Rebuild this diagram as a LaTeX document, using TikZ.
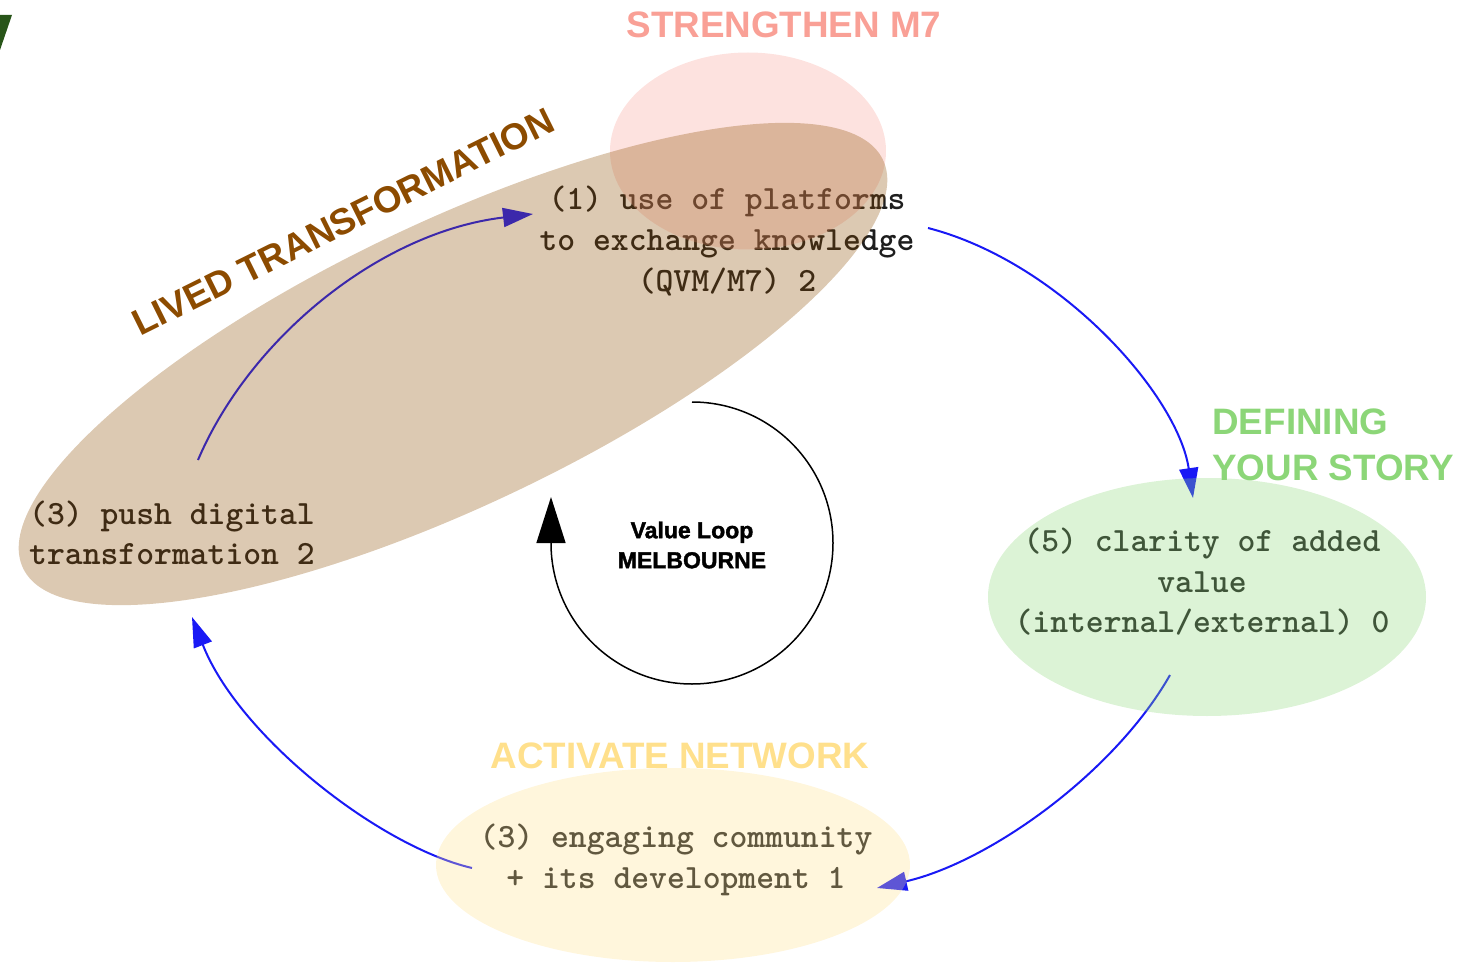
\documentclass[tikz,border=0pt]{standalone}
\usepackage{fontspec}
\setmainfont{Liberation Sans}
\newfontfamily\heavyfont{Liberation Sans}[BoldFeatures={FakeBold=1.6}]
\usetikzlibrary{shapes.geometric,arrows.meta}

\definecolor{strengthcol}{RGB}{249,160,150}
\definecolor{storycol}{RGB}{140,214,120}
\definecolor{networkcol}{RGB}{255,224,140}
\definecolor{livedcol}{RGB}{140,75,0}
\definecolor{linkcol}{RGB}{25,25,245}
\definecolor{inkcol}{RGB}{30,30,30}
\definecolor{cornercol}{RGB}{40,85,25}

\tikzset{
  steplabel/.style={font=\ttfamily\bfseries\fontsize{17}{20.3}\selectfont,
    text=inkcol, align=center, inner sep=0pt},
  heading/.style={font=\bfseries\fontsize{18.4}{23}\selectfont, inner sep=0pt},
  zone/.style={ellipse, draw=none, fill opacity=0.3, inner sep=0pt, outer sep=0pt},
  link/.style={draw=linkcol, line width=1pt,
    -{Triangle[length=15pt,width=9.5pt]}},
  loopline/.style={draw=black, line width=0.75pt,
    -{Triangle[length=23pt,width=14.5pt]}}
}

\begin{document}
\begin{tikzpicture}[x=0.5pt,y=-0.5pt]
\useasboundingbox (0,0) rectangle (1458,963);

% corner mark
\fill[cornercol] (0,15) -- (12,15) -- (0,50) -- cycle;

% step texts
\node[steplabel] (platforms) at (727,241)
  {(1) use of platforms\\to exchange knowledge\\(QVM/M7) 2};
\node[steplabel, align=left] (digital) at (172,533)
  {(3) push digital\\transformation 2};
\node[steplabel] (clarity) at (1202,582)
  {(5) clarity of added\\value\\(internal/external) 0};
\node[steplabel] (community) at (676,860)
  {(3) engaging community\\+ its development 1};

% connector end points
\coordinate (platformsout) at (928,228);
\coordinate (clarityin)    at (1193,498);
\coordinate (clarityout)   at (1170,675);
\coordinate (communityin)  at (877,888);
\coordinate (communityout) at (472,868);
\coordinate (digitalin)    at (192,617);
\coordinate (digitalout)   at (198,460);
\coordinate (platformsin)  at (533,214);

% cycle connectors
\draw[link] (platformsout) .. controls (1060,262) and (1178,395) .. (clarityin);
\draw[link] (clarityout) .. controls (1115,772) and (990,862) .. (communityin);
\draw[link] (communityout) .. controls (378,846) and (238,735) .. (digitalin);
\draw[link] (digitalout) .. controls (250,338) and (380,232) .. (platformsin);

% central loop
\node[font=\heavyfont\bfseries\fontsize{11.5}{15}\selectfont, align=center, inner sep=0pt]
  (loop) at (692,545) {Value Loop\\MELBOURNE};
\coordinate (looptop) at (692,402);
\draw[loopline] (looptop) arc[start angle=-90, end angle=180, radius=141] -- ++(0,-46);

% tinted zones
\node[zone, fill=strengthcol, minimum width=138pt, minimum height=98.5pt]
  (strengthzone) at (748,151) {};
\node[zone, fill=livedcol, minimum width=476pt, minimum height=142pt, rotate=25.4]
  (livedzone) at (453,364) {};
\node[zone, fill=storycol, minimum width=219pt, minimum height=119pt]
  (storyzone) at (1207,597) {};
\node[zone, fill=networkcol, minimum width=237pt, minimum height=97pt]
  (networkzone) at (673,865) {};

% zone headings
\node[heading, text=strengthcol] (strengthhead) at (784,25) {STRENGTHEN M7};
\node[heading, text=storycol, align=left, anchor=west] (storyhead) at (1212,445)
  {DEFINING\\YOUR STORY};
\node[heading, text=networkcol] (networkhead) at (680,756) {ACTIVATE NETWORK};
\node[heading, text=livedcol, rotate=26.4] (livedhead) at (343,222)
  {LIVED TRANSFORMATION};
\end{tikzpicture}
\end{document}
